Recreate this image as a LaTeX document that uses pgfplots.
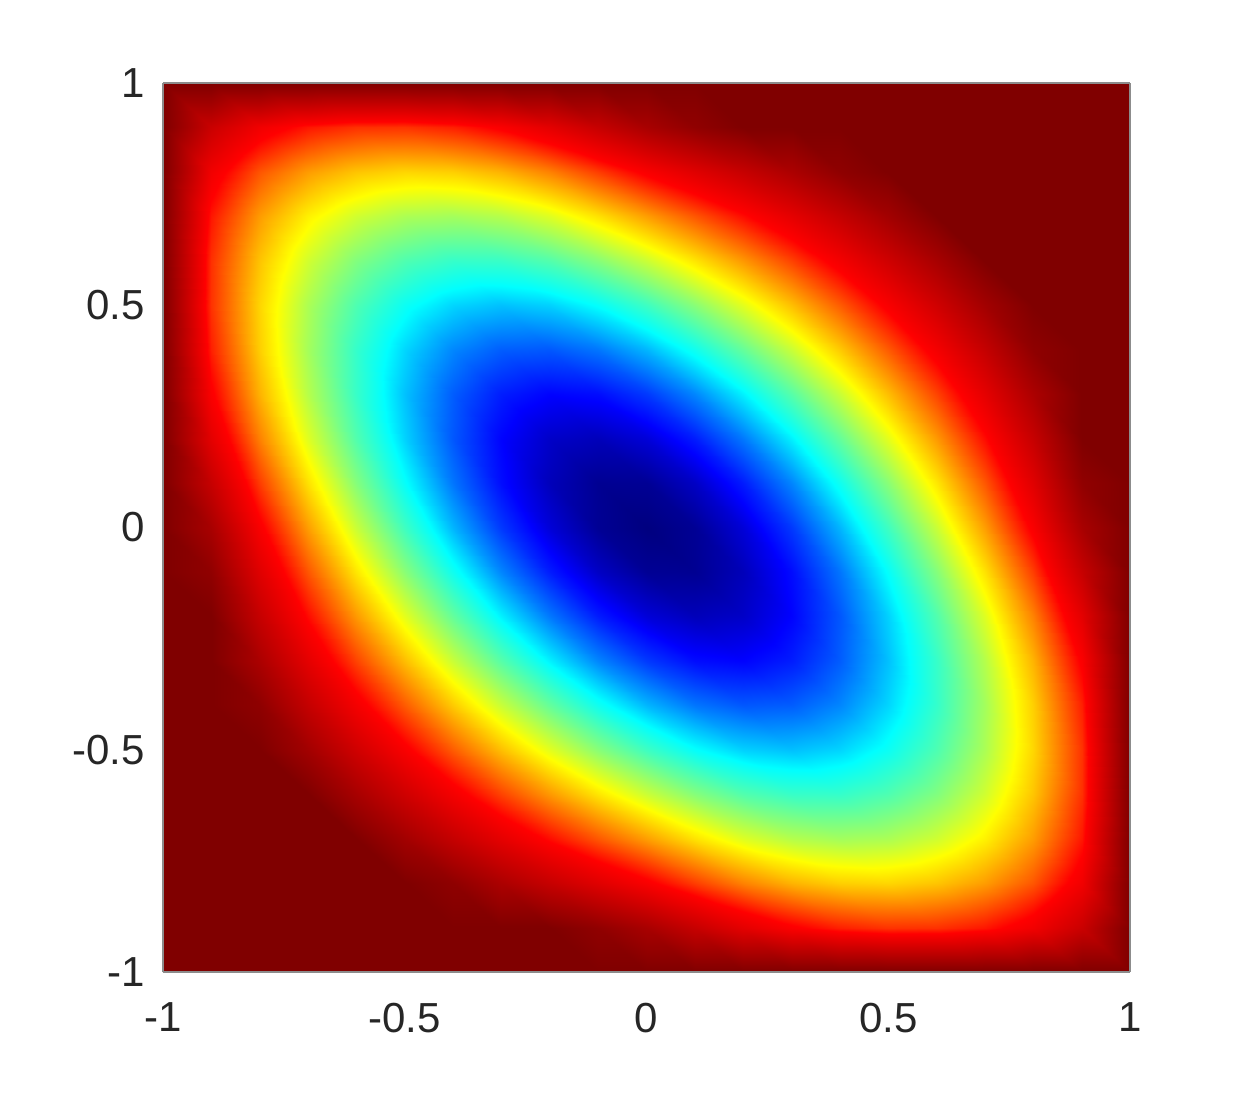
\documentclass[border=0pt]{standalone}
\usepackage{fontspec}
\setmainfont{Liberation Sans}
\usepackage{pgfplots}
\pgfplotsset{compat=1.18}

% jet colours placed at the data levels where the bands sit
\pgfplotsset{colormap={jetlevels}{rgb(0pt)=(0,0,0.5); rgb(55pt)=(0,0,1); rgb(190pt)=(0,1,1);
  rgb(380pt)=(1,1,0); rgb(600pt)=(1,0,0); rgb(900pt)=(0.5,0,0)}}

\begin{document}
\begin{tikzpicture}
\begin{axis}[
    name=ax,
    view={0}{90},
    scale only axis,
    width=483.5pt, height=444.5pt,
    xmin=-1, xmax=1, ymin=-1, ymax=1,
    enlargelimits=false,
    axis on top,
    colormap name=jetlevels,
    point meta min=0, point meta max=0.9,
    xtick={-1,-0.5,0,0.5,1}, xticklabels={-1,-0.5,0,0.5,1},
    ytick={-1,-0.5,0,0.5,1}, yticklabels={-1,-0.5,0,0.5,1},
    ztick=\empty,
    major tick length=0pt,
    axis line style={black!45, line width=0.6pt},
    tick label style={font=\fontsize{21}{25}\selectfont, text=black!85},
    xticklabel style={yshift=-12pt},
    yticklabel style={xshift=-5.5pt},
]
\addplot3[surf, shader=interp, mesh/cols=21] coordinates {
(-1,-1,0.9) (-0.9,-1,0.9) (-0.8,-1,0.9) (-0.7,-1,0.9) (-0.6,-1,0.9) (-0.5,-1,0.9) (-0.4,-1,0.9) (-0.3,-1,0.9) (-0.2,-1,0.9) (-0.1,-1,0.9) (0,-1,0.9) (0.1,-1,0.9) (0.2,-1,0.9) (0.3,-1,0.9) (0.4,-1,0.9) (0.5,-1,0.9) (0.6,-1,0.9) (0.7,-1,0.9) (0.8,-1,0.9) (0.9,-1,0.9) (1,-1,0.9)
(-1,-0.9,0.9) (-0.9,-0.9,0.9) (-0.8,-0.9,0.9) (-0.7,-0.9,0.9) (-0.6,-0.9,0.9) (-0.5,-0.9,0.9) (-0.4,-0.9,0.9) (-0.3,-0.9,0.9) (-0.2,-0.9,0.9) (-0.1,-0.9,0.86) (0,-0.9,0.805) (0.1,-0.9,0.734) (0.2,-0.9,0.665) (0.3,-0.9,0.61) (0.4,-0.9,0.574) (0.5,-0.9,0.557) (0.6,-0.9,0.559) (0.7,-0.9,0.582) (0.8,-0.9,0.632) (0.9,-0.9,0.726) (1,-0.9,0.9)
(-1,-0.8,0.9) (-0.9,-0.8,0.9) (-0.8,-0.8,0.9) (-0.7,-0.8,0.9) (-0.6,-0.8,0.9) (-0.5,-0.8,0.9) (-0.4,-0.8,0.864) (-0.3,-0.8,0.796) (-0.2,-0.8,0.733) (-0.1,-0.8,0.673) (0,-0.8,0.613) (0.1,-0.8,0.547) (0.2,-0.8,0.488) (0.3,-0.8,0.445) (0.4,-0.8,0.421) (0.5,-0.8,0.415) (0.6,-0.8,0.43) (0.7,-0.8,0.465) (0.8,-0.8,0.526) (0.9,-0.8,0.632) (1,-0.8,0.9)
(-1,-0.7,0.9) (-0.9,-0.7,0.9) (-0.8,-0.7,0.9) (-0.7,-0.7,0.9) (-0.6,-0.7,0.9) (-0.5,-0.7,0.819) (-0.4,-0.7,0.738) (-0.3,-0.7,0.662) (-0.2,-0.7,0.591) (-0.1,-0.7,0.526) (0,-0.7,0.464) (0.1,-0.7,0.405) (0.2,-0.7,0.356) (0.3,-0.7,0.325) (0.4,-0.7,0.312) (0.5,-0.7,0.318) (0.6,-0.7,0.345) (0.7,-0.7,0.392) (0.8,-0.7,0.465) (0.9,-0.7,0.582) (1,-0.7,0.9)
(-1,-0.6,0.9) (-0.9,-0.6,0.9) (-0.8,-0.6,0.9) (-0.7,-0.6,0.9) (-0.6,-0.6,0.806) (-0.5,-0.6,0.713) (-0.4,-0.6,0.625) (-0.3,-0.6,0.543) (-0.2,-0.6,0.468) (-0.1,-0.6,0.401) (0,-0.6,0.34) (0.1,-0.6,0.289) (0.2,-0.6,0.251) (0.3,-0.6,0.231) (0.4,-0.6,0.229) (0.5,-0.6,0.248) (0.6,-0.6,0.286) (0.7,-0.6,0.345) (0.8,-0.6,0.43) (0.9,-0.6,0.559) (1,-0.6,0.9)
(-1,-0.5,0.9) (-0.9,-0.5,0.9) (-0.8,-0.5,0.9) (-0.7,-0.5,0.819) (-0.6,-0.5,0.713) (-0.5,-0.5,0.614) (-0.4,-0.5,0.521) (-0.3,-0.5,0.436) (-0.2,-0.5,0.359) (-0.1,-0.5,0.292) (0,-0.5,0.236) (0.1,-0.5,0.193) (0.2,-0.5,0.166) (0.3,-0.5,0.157) (0.4,-0.5,0.168) (0.5,-0.5,0.198) (0.6,-0.5,0.248) (0.7,-0.5,0.318) (0.8,-0.5,0.415) (0.9,-0.5,0.557) (1,-0.5,0.9)
(-1,-0.4,0.9) (-0.9,-0.4,0.9) (-0.8,-0.4,0.864) (-0.7,-0.4,0.738) (-0.6,-0.4,0.625) (-0.5,-0.4,0.521) (-0.4,-0.4,0.425) (-0.3,-0.4,0.339) (-0.2,-0.4,0.264) (-0.1,-0.4,0.201) (0,-0.4,0.151) (0.1,-0.4,0.117) (0.2,-0.4,0.101) (0.3,-0.4,0.104) (0.4,-0.4,0.126) (0.5,-0.4,0.168) (0.6,-0.4,0.229) (0.7,-0.4,0.312) (0.8,-0.4,0.421) (0.9,-0.4,0.574) (1,-0.4,0.9)
(-1,-0.3,0.9) (-0.9,-0.3,0.9) (-0.8,-0.3,0.796) (-0.7,-0.3,0.662) (-0.6,-0.3,0.543) (-0.5,-0.3,0.436) (-0.4,-0.3,0.339) (-0.3,-0.3,0.255) (-0.2,-0.3,0.183) (-0.1,-0.3,0.126) (0,-0.3,0.085) (0.1,-0.3,0.061) (0.2,-0.3,0.056) (0.3,-0.3,0.07) (0.4,-0.3,0.104) (0.5,-0.3,0.157) (0.6,-0.3,0.231) (0.7,-0.3,0.325) (0.8,-0.3,0.445) (0.9,-0.3,0.61) (1,-0.3,0.9)
(-1,-0.2,0.9) (-0.9,-0.2,0.9) (-0.8,-0.2,0.733) (-0.7,-0.2,0.591) (-0.6,-0.2,0.468) (-0.5,-0.2,0.359) (-0.4,-0.2,0.264) (-0.3,-0.2,0.183) (-0.2,-0.2,0.118) (-0.1,-0.2,0.069) (0,-0.2,0.038) (0.1,-0.2,0.025) (0.2,-0.2,0.031) (0.3,-0.2,0.056) (0.4,-0.2,0.101) (0.5,-0.2,0.166) (0.6,-0.2,0.251) (0.7,-0.2,0.356) (0.8,-0.2,0.488) (0.9,-0.2,0.665) (1,-0.2,0.9)
(-1,-0.1,0.9) (-0.9,-0.1,0.86) (-0.8,-0.1,0.673) (-0.7,-0.1,0.526) (-0.6,-0.1,0.401) (-0.5,-0.1,0.292) (-0.4,-0.1,0.201) (-0.3,-0.1,0.126) (-0.2,-0.1,0.069) (-0.1,-0.1,0.03) (0,-0.1,0.009) (0.1,-0.1,0.008) (0.2,-0.1,0.025) (0.3,-0.1,0.061) (0.4,-0.1,0.117) (0.5,-0.1,0.193) (0.6,-0.1,0.289) (0.7,-0.1,0.405) (0.8,-0.1,0.547) (0.9,-0.1,0.734) (1,-0.1,0.9)
(-1,0,0.9) (-0.9,0,0.805) (-0.8,0,0.613) (-0.7,0,0.464) (-0.6,0,0.34) (-0.5,0,0.236) (-0.4,0,0.151) (-0.3,0,0.085) (-0.2,0,0.038) (-0.1,0,0.009) (0,0,0) (0.1,0,0.009) (0.2,0,0.038) (0.3,0,0.085) (0.4,0,0.151) (0.5,0,0.236) (0.6,0,0.34) (0.7,0,0.464) (0.8,0,0.613) (0.9,0,0.805) (1,0,0.9)
(-1,0.1,0.9) (-0.9,0.1,0.734) (-0.8,0.1,0.547) (-0.7,0.1,0.405) (-0.6,0.1,0.289) (-0.5,0.1,0.193) (-0.4,0.1,0.117) (-0.3,0.1,0.061) (-0.2,0.1,0.025) (-0.1,0.1,0.008) (0,0.1,0.009) (0.1,0.1,0.03) (0.2,0.1,0.069) (0.3,0.1,0.126) (0.4,0.1,0.201) (0.5,0.1,0.292) (0.6,0.1,0.401) (0.7,0.1,0.526) (0.8,0.1,0.673) (0.9,0.1,0.86) (1,0.1,0.9)
(-1,0.2,0.9) (-0.9,0.2,0.665) (-0.8,0.2,0.488) (-0.7,0.2,0.356) (-0.6,0.2,0.251) (-0.5,0.2,0.166) (-0.4,0.2,0.101) (-0.3,0.2,0.056) (-0.2,0.2,0.031) (-0.1,0.2,0.025) (0,0.2,0.038) (0.1,0.2,0.069) (0.2,0.2,0.118) (0.3,0.2,0.183) (0.4,0.2,0.264) (0.5,0.2,0.359) (0.6,0.2,0.468) (0.7,0.2,0.591) (0.8,0.2,0.733) (0.9,0.2,0.9) (1,0.2,0.9)
(-1,0.3,0.9) (-0.9,0.3,0.61) (-0.8,0.3,0.445) (-0.7,0.3,0.325) (-0.6,0.3,0.231) (-0.5,0.3,0.157) (-0.4,0.3,0.104) (-0.3,0.3,0.07) (-0.2,0.3,0.056) (-0.1,0.3,0.061) (0,0.3,0.085) (0.1,0.3,0.126) (0.2,0.3,0.183) (0.3,0.3,0.255) (0.4,0.3,0.339) (0.5,0.3,0.436) (0.6,0.3,0.543) (0.7,0.3,0.662) (0.8,0.3,0.796) (0.9,0.3,0.9) (1,0.3,0.9)
(-1,0.4,0.9) (-0.9,0.4,0.574) (-0.8,0.4,0.421) (-0.7,0.4,0.312) (-0.6,0.4,0.229) (-0.5,0.4,0.168) (-0.4,0.4,0.126) (-0.3,0.4,0.104) (-0.2,0.4,0.101) (-0.1,0.4,0.117) (0,0.4,0.151) (0.1,0.4,0.201) (0.2,0.4,0.264) (0.3,0.4,0.339) (0.4,0.4,0.425) (0.5,0.4,0.521) (0.6,0.4,0.625) (0.7,0.4,0.738) (0.8,0.4,0.864) (0.9,0.4,0.9) (1,0.4,0.9)
(-1,0.5,0.9) (-0.9,0.5,0.557) (-0.8,0.5,0.415) (-0.7,0.5,0.318) (-0.6,0.5,0.248) (-0.5,0.5,0.198) (-0.4,0.5,0.168) (-0.3,0.5,0.157) (-0.2,0.5,0.166) (-0.1,0.5,0.193) (0,0.5,0.236) (0.1,0.5,0.292) (0.2,0.5,0.359) (0.3,0.5,0.436) (0.4,0.5,0.521) (0.5,0.5,0.614) (0.6,0.5,0.713) (0.7,0.5,0.819) (0.8,0.5,0.9) (0.9,0.5,0.9) (1,0.5,0.9)
(-1,0.6,0.9) (-0.9,0.6,0.559) (-0.8,0.6,0.43) (-0.7,0.6,0.345) (-0.6,0.6,0.286) (-0.5,0.6,0.248) (-0.4,0.6,0.229) (-0.3,0.6,0.231) (-0.2,0.6,0.251) (-0.1,0.6,0.289) (0,0.6,0.34) (0.1,0.6,0.401) (0.2,0.6,0.468) (0.3,0.6,0.543) (0.4,0.6,0.625) (0.5,0.6,0.713) (0.6,0.6,0.806) (0.7,0.6,0.9) (0.8,0.6,0.9) (0.9,0.6,0.9) (1,0.6,0.9)
(-1,0.7,0.9) (-0.9,0.7,0.582) (-0.8,0.7,0.465) (-0.7,0.7,0.392) (-0.6,0.7,0.345) (-0.5,0.7,0.318) (-0.4,0.7,0.312) (-0.3,0.7,0.325) (-0.2,0.7,0.356) (-0.1,0.7,0.405) (0,0.7,0.464) (0.1,0.7,0.526) (0.2,0.7,0.591) (0.3,0.7,0.662) (0.4,0.7,0.738) (0.5,0.7,0.819) (0.6,0.7,0.9) (0.7,0.7,0.9) (0.8,0.7,0.9) (0.9,0.7,0.9) (1,0.7,0.9)
(-1,0.8,0.9) (-0.9,0.8,0.632) (-0.8,0.8,0.526) (-0.7,0.8,0.465) (-0.6,0.8,0.43) (-0.5,0.8,0.415) (-0.4,0.8,0.421) (-0.3,0.8,0.445) (-0.2,0.8,0.488) (-0.1,0.8,0.547) (0,0.8,0.613) (0.1,0.8,0.673) (0.2,0.8,0.733) (0.3,0.8,0.796) (0.4,0.8,0.864) (0.5,0.8,0.9) (0.6,0.8,0.9) (0.7,0.8,0.9) (0.8,0.8,0.9) (0.9,0.8,0.9) (1,0.8,0.9)
(-1,0.9,0.9) (-0.9,0.9,0.726) (-0.8,0.9,0.632) (-0.7,0.9,0.582) (-0.6,0.9,0.559) (-0.5,0.9,0.557) (-0.4,0.9,0.574) (-0.3,0.9,0.61) (-0.2,0.9,0.665) (-0.1,0.9,0.734) (0,0.9,0.805) (0.1,0.9,0.86) (0.2,0.9,0.9) (0.3,0.9,0.9) (0.4,0.9,0.9) (0.5,0.9,0.9) (0.6,0.9,0.9) (0.7,0.9,0.9) (0.8,0.9,0.9) (0.9,0.9,0.9) (1,0.9,0.9)
(-1,1,0.9) (-0.9,1,0.9) (-0.8,1,0.9) (-0.7,1,0.9) (-0.6,1,0.9) (-0.5,1,0.9) (-0.4,1,0.9) (-0.3,1,0.9) (-0.2,1,0.9) (-0.1,1,0.9) (0,1,0.9) (0.1,1,0.9) (0.2,1,0.9) (0.3,1,0.9) (0.4,1,0.9) (0.5,1,0.9) (0.6,1,0.9) (0.7,1,0.9) (0.8,1,0.9) (0.9,1,0.9) (1,1,0.9)
};
\end{axis}
% white margins as in the reference
\pgfresetboundingbox
\path[use as bounding box] ([xshift=-81.5pt,yshift=-61pt]ax.south west) rectangle ([xshift=60pt,yshift=41.5pt]ax.north east);
\end{tikzpicture}
\end{document}
